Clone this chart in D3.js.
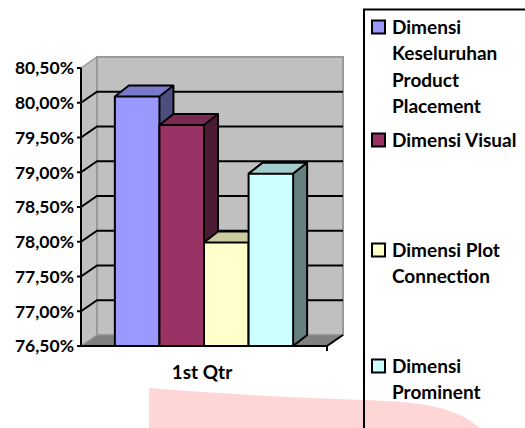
<!DOCTYPE html>
<html>
<head>
<meta charset="utf-8">
<script src="https://cdn.jsdelivr.net/npm/d3@7"></script>
<style>
  body { margin: 0; background: #fff; }
  svg { display: block; font-family: Lato, "Noto Sans", sans-serif; font-weight: bold; }
</style>
</head>
<body>
<script>
// chart data
const categories = ["1st Qtr"]
const seriesNames = ["Dimensi Keseluruhan Product Placement", "Dimensi Visual", "Dimensi Plot Connection", "Dimensi Prominent"]
const seriesValues = [80.09, 79.68, 77.99, 78.98]
const tickValues = [76.5, 77, 77.5, 78, 78.5, 79, 79.5, 80, 80.5]
const legendLines = [["Dimensi", "Keseluruhan", "Product", "Placement"], ["Dimensi Visual"], ["Dimensi Plot", "Connection"], ["Dimensi", "Prominent"]]

const frontColors = ["#9999ff", "#993366", "#ffffcc", "#ccffff"]
const topColors = ["#7a7acc", "#7a2952", "#cccca3", "#a3cccc"]
const sideColors = ["#4d4d80", "#4d1a33", "#808066", "#668080"]

const width = 525
const height = 428
const depth = [16, -11]      // wall depth offset
const barDepth = [14, -11]   // bar depth offset

const svg = d3.select("body").append("svg")
    .attr("width", width)
    .attr("height", height)

// watermark-like pink shape in the background
svg.append("path")
    .attr("d", "M149,428 L149,388 Q260,397 365,400 C425,402 455,407 480,428 Z")
    .attr("fill", "#ffd6d6")

const y = d3.scaleLinear().domain([76.5, 80.5]).range([346, 68])
const x0 = d3.scaleBand().domain(categories).range([81, 327]).paddingOuter(0.19)
const x1 = d3.scaleBand().domain(seriesNames).range([0, x0.bandwidth()])

const fmt = d3.formatLocale({ decimal: ",", thousands: ".", grouping: [3], currency: ["", ""] }).format(".2f")

const pLeft = 81, pRight = 327, pBottom = y(76.5), pTop = y(80.5)

// left side wall
svg.append("path")
    .attr("d", `M${pLeft},${pTop} l${depth[0]},${depth[1]} L${pLeft + depth[0]},${pBottom + depth[1]} L${pLeft},${pBottom} Z`)
    .attr("fill", "#c0c0c0").attr("stroke", "#999").attr("stroke-width", 1.5)

// back wall
svg.append("rect")
    .attr("x", pLeft + depth[0]).attr("y", pTop + depth[1])
    .attr("width", pRight - pLeft).attr("height", pBottom - pTop)
    .attr("fill", "#c0c0c0").attr("stroke", "#999").attr("stroke-width", 2)

// floor
svg.append("path")
    .attr("d", `M${pLeft},${pBottom} L${pLeft + depth[0]},${pBottom + depth[1]} L${pRight + depth[0]},${pBottom + depth[1]} L${pRight},${pBottom} Z`)
    .attr("fill", "#808080").attr("stroke", "#999").attr("stroke-width", 1)

// gridlines on side wall and back wall
const inner = tickValues.filter(d => d > 76.5 && d < 80.5)
svg.append("g").selectAll("path")
    .data(inner).enter()
    .append("path")
        .attr("d", d => `M${pLeft},${y(d)} l${depth[0]},${depth[1]} L${pRight + depth[0]},${y(d) + depth[1]}`)
        .attr("fill", "none").attr("stroke", "#000").attr("stroke-width", 2)

// bars
const bars = svg.append("g").selectAll("g")
    .data(seriesValues).enter()
    .append("g")
bars.each(function (v, i) {
    const g = d3.select(this)
    const bx = x0(categories[0]) + x1(seriesNames[i])
    const bw = x1.bandwidth()
    const by = y(v)
    g.append("path")
        .attr("d", `M${bx + bw},${by} l${barDepth[0]},${barDepth[1]} L${bx + bw + barDepth[0]},${pBottom + barDepth[1]} L${bx + bw},${pBottom} Z`)
        .attr("fill", sideColors[i])
    g.append("path")
        .attr("d", `M${bx},${by} l${barDepth[0]},${barDepth[1]} l${bw},0 l${-barDepth[0]},${-barDepth[1]} Z`)
        .attr("fill", topColors[i])
    g.append("rect")
        .attr("x", bx).attr("y", by)
        .attr("width", bw).attr("height", pBottom - by)
        .attr("fill", frontColors[i])
    // outline
    g.append("path")
        .attr("d", `M${bx},${pBottom} L${bx},${by} l${barDepth[0]},${barDepth[1]} l${bw},0 L${bx + bw + barDepth[0]},${pBottom + barDepth[1]} L${bx + bw},${pBottom} Z M${bx},${by} l${bw},0 l${barDepth[0]},${barDepth[1]} M${bx + bw},${by} L${bx + bw},${pBottom}`)
        .attr("fill", "none").attr("stroke", "#000").attr("stroke-width", 2).attr("stroke-linejoin", "round")
})

// axes
svg.append("line")
    .attr("x1", pLeft).attr("x2", pLeft).attr("y1", pTop).attr("y2", pBottom)
    .attr("stroke", "#000").attr("stroke-width", 2)
svg.append("line")
    .attr("x1", pLeft).attr("x2", pRight).attr("y1", pBottom).attr("y2", pBottom)
    .attr("stroke", "#000").attr("stroke-width", 2)
svg.append("path")
    .attr("d", `M${pRight},${pBottom + 5} L${pRight},${pBottom} l${depth[0]},${depth[1]}`)
    .attr("fill", "none").attr("stroke", "#000").attr("stroke-width", 2)

const yTicks = svg.append("g")
yTicks.selectAll("line")
    .data(tickValues).enter()
    .append("line")
        .attr("x1", pLeft - 4).attr("x2", pLeft)
        .attr("y1", d => y(d)).attr("y2", d => y(d))
        .attr("stroke", "#000").attr("stroke-width", 2)
yTicks.selectAll("text")
    .data(tickValues).enter()
    .append("text")
        .attr("x", 74)
        .attr("y", d => y(d))
        .attr("dy", "0.36em")
        .attr("text-anchor", "end")
        .style("font-size", "17.5px")
        .text(d => fmt(d) + "%")

svg.append("text")
    .attr("x", x0(categories[0]) + x0.bandwidth() / 2 - 2)
    .attr("y", 372)
    .attr("dy", "0.36em")
    .attr("text-anchor", "middle")
    .style("font-size", "19px")
    .text(categories[0])

// legend
svg.append("rect")
    .attr("x", 364).attr("y", 9.5)
    .attr("width", 200).attr("height", 440)
    .attr("fill", "none").attr("stroke", "#000").attr("stroke-width", 2)

const legendY = [27, 140, 250, 366]
const lineH = 26.5
const items = svg.append("g").selectAll("g")
    .data(seriesNames).enter()
    .append("g")
        .attr("transform", (d, i) => `translate(372,${legendY[i]})`)
items.append("rect")
    .attr("x", 0).attr("y", -6.5)
    .attr("width", 13).attr("height", 13)
    .attr("fill", (d, i) => frontColors[i])
    .attr("stroke", "#000").attr("stroke-width", 2)
items.each(function (d, i) {
    d3.select(this).selectAll("text")
        .data(legendLines[i]).enter()
        .append("text")
            .attr("x", 20)
            .attr("y", (t, j) => j * lineH)
            .attr("dy", "0.36em")
            .style("font-size", "19px")
            .text(t => t)
})
</script>
</body>
</html>
